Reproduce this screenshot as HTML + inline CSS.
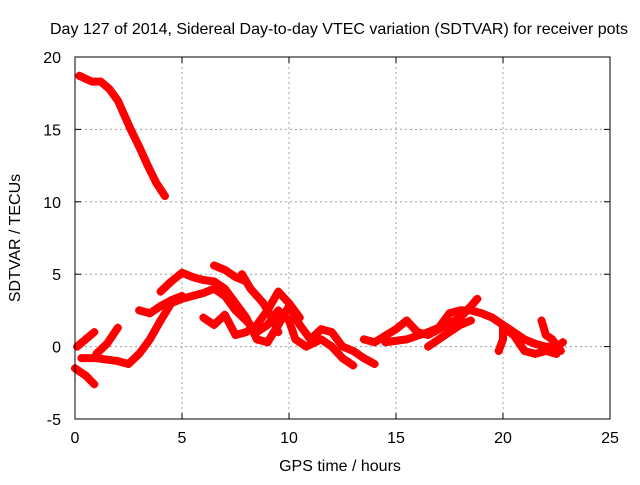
<!DOCTYPE html>
<html><head><meta charset="utf-8"><style>
body{margin:0;background:#fff}
svg text{font-family:"Liberation Sans",sans-serif;font-size:16px;fill:#000}
</style></head><body>
<svg id="chart" width="640" height="480" xmlns="http://www.w3.org/2000/svg">
<rect width="640" height="480" fill="#fff"/>
<text x="50" y="34" textLength="578" lengthAdjust="spacingAndGlyphs">Day 127 of 2014, Sidereal Day-to-day VTEC variation (SDTVAR) for receiver pots</text>
<text x="340" y="471" text-anchor="middle">GPS time / hours</text>
<text transform="translate(20,238) rotate(-90)" text-anchor="middle">SDTVAR / TECUs</text>
<g id="grid"></g>
<g id="ticks"></g>
<g id="series"></g>
<rect x="75" y="57" width="535" height="362" fill="none" stroke="#000" stroke-width="1"/>
</svg>
<script>
const xTicks=[0,5,10,15,20,25];
const yTicks=[-5,0,5,10,15,20];
const track1=[[0.2,18.7],[0.5,18.5],[0.8,18.3],[1.2,18.3],[1.6,17.8],[2,17],[2.3,16],[2.6,15],[3,13.8],[3.4,12.5],[3.8,11.3],[4.2,10.4]];
const track2=[[0.1,0],[0.5,0.5],[0.9,1]];
const track3=[[0,-1.5],[0.5,-2],[0.9,-2.6]];
const track4=[[0.3,-0.8],[1,-0.8],[2,-1],[2.5,-1.2],[3,-0.5],[3.5,0.5],[4,1.8],[4.5,3],[5,3.3],[5.5,3.5],[6,3.7],[6.5,4],[7,3.5],[7.5,2.5],[8,1.8],[8.5,1],[9,1.5],[9.5,2.5],[10,1.8],[10.3,0.5],[10.8,0],[11.5,0.5],[12,0],[12.5,-0.8],[13,-1.3]];
const track5=[[1,-0.5],[1.5,0.2],[2,1.3]];
const track6=[[4,3.8],[4.5,4.5],[5,5.1],[5.5,4.8],[6,4.6],[6.5,4.5],[7,4],[7.5,3],[8,2],[8.5,0.5],[9,0.3],[9.5,1.5],[10,2.8],[10.5,1.5],[11,0.5],[11.5,1.2],[12,1],[12.5,0],[13,-0.3],[13.5,-0.8],[14,-1.2]];
const track7=[[3,2.5],[3.5,2.3],[4,2.8],[4.5,3.2],[5,3.5]];
const track8=[[6.5,5.6],[7,5.3],[7.5,4.8],[8,4.5]];
const track9=[[7.8,5],[8.2,4],[8.8,3],[9.2,2],[9.5,1]];
const track10=[[6,2],[6.5,1.5],[7,2.2],[7.5,0.8],[8,1],[8.5,1.5],[9,2.5],[9.5,3.8],[10,3],[10.5,2]];
const track11=[[13.5,0.5],[14,0.3],[15,1.2],[15.5,1.8],[16,1],[16.5,0.8],[17,1.2],[18,2],[18.5,2.8],[18.8,3.3]];
const track12=[[14.5,0.3],[15.5,0.5],[16.5,1],[17,1.3],[17.5,2.3],[18,2.5],[18.5,2.5],[19,2.3],[19.5,2],[20,1.5],[20.5,1],[21,0.5],[21.5,0.2],[22,0],[22.5,0],[22.8,0.3]];
const track13=[[19.8,-0.3],[20,0.5],[20,1.3],[20.5,0.8],[21,-0.3],[21.5,-0.5],[22,-0.3],[22.5,-0.5]];
const track14=[[21.8,1.8],[22,0.8],[22.3,0.5],[22.7,-0.3]];
const track15=[[16.5,0],[17,0.5],[17.5,1],[18,1.5],[18.5,1.8]];
const tracks=[track1,track2,track3,track4,track5,track6,track7,track8,track9,track10,track11,track12,track13,track14,track15];

const X0=75,X1=610,Y0=419,Y1=57;
const sx=v=>X0+(v-0)/(25-0)*(X1-X0);
const sy=v=>Y0-(v+5)/(20+5)*(Y0-Y1);
const NS="http://www.w3.org/2000/svg";
const grid=document.getElementById('grid'),ticks=document.getElementById('ticks'),ser=document.getElementById('series');
function mk(tag,attrs,parent){const e=document.createElementNS(NS,tag);for(const k in attrs)e.setAttribute(k,attrs[k]);parent.appendChild(e);return e;}
xTicks.forEach(t=>{
  const x=sx(t);
  if(t>0&&t<25){const g=mk('line',{x1:x,x2:x,y1:Y1,y2:Y0,stroke:'#a0a0a0','stroke-dasharray':'2,3'},grid);
  
  }
  mk('line',{x1:x,x2:x,y1:Y0,y2:Y0-6,stroke:'#000'},ticks);
  mk('line',{x1:x,x2:x,y1:Y1,y2:Y1+6,stroke:'#000'},ticks);
  const l=mk('text',{x:x,y:443,'text-anchor':'middle'},ticks);l.textContent=t;
  
  
});
yTicks.forEach(t=>{
  const y=sy(t);
  if(t>-5&&t<20){const g=mk('line',{x1:X0,x2:X1,y1:y,y2:y,stroke:'#a0a0a0','stroke-dasharray':'2,3'},grid);
  
  }
  mk('line',{x1:X0,x2:X0+6,y1:y,y2:y,stroke:'#000'},ticks);
  mk('line',{x1:X1,x2:X1-6,y1:y,y2:y,stroke:'#000'},ticks);
  const l=mk('text',{x:61,y:y+6,'text-anchor':'end'},ticks);l.textContent=t;
  
  
});
tracks.forEach(tr=>{
  const p=mk('polyline',{points:tr.map(d=>sx(d[0])+','+sy(d[1])).join(' '),fill:'none',stroke:'#ff0000','stroke-width':8,'stroke-linejoin':'round','stroke-linecap':'round'},ser);
  
  
  tr.forEach(d=>{
    const m=mk('path',{d:`M${sx(d[0])-4},${sy(d[1])}h8M${sx(d[0])},${sy(d[1])-4}v8`,stroke:'#ff0000','stroke-width':2},ser);
    
    
  });
});
</script>
</body></html>
